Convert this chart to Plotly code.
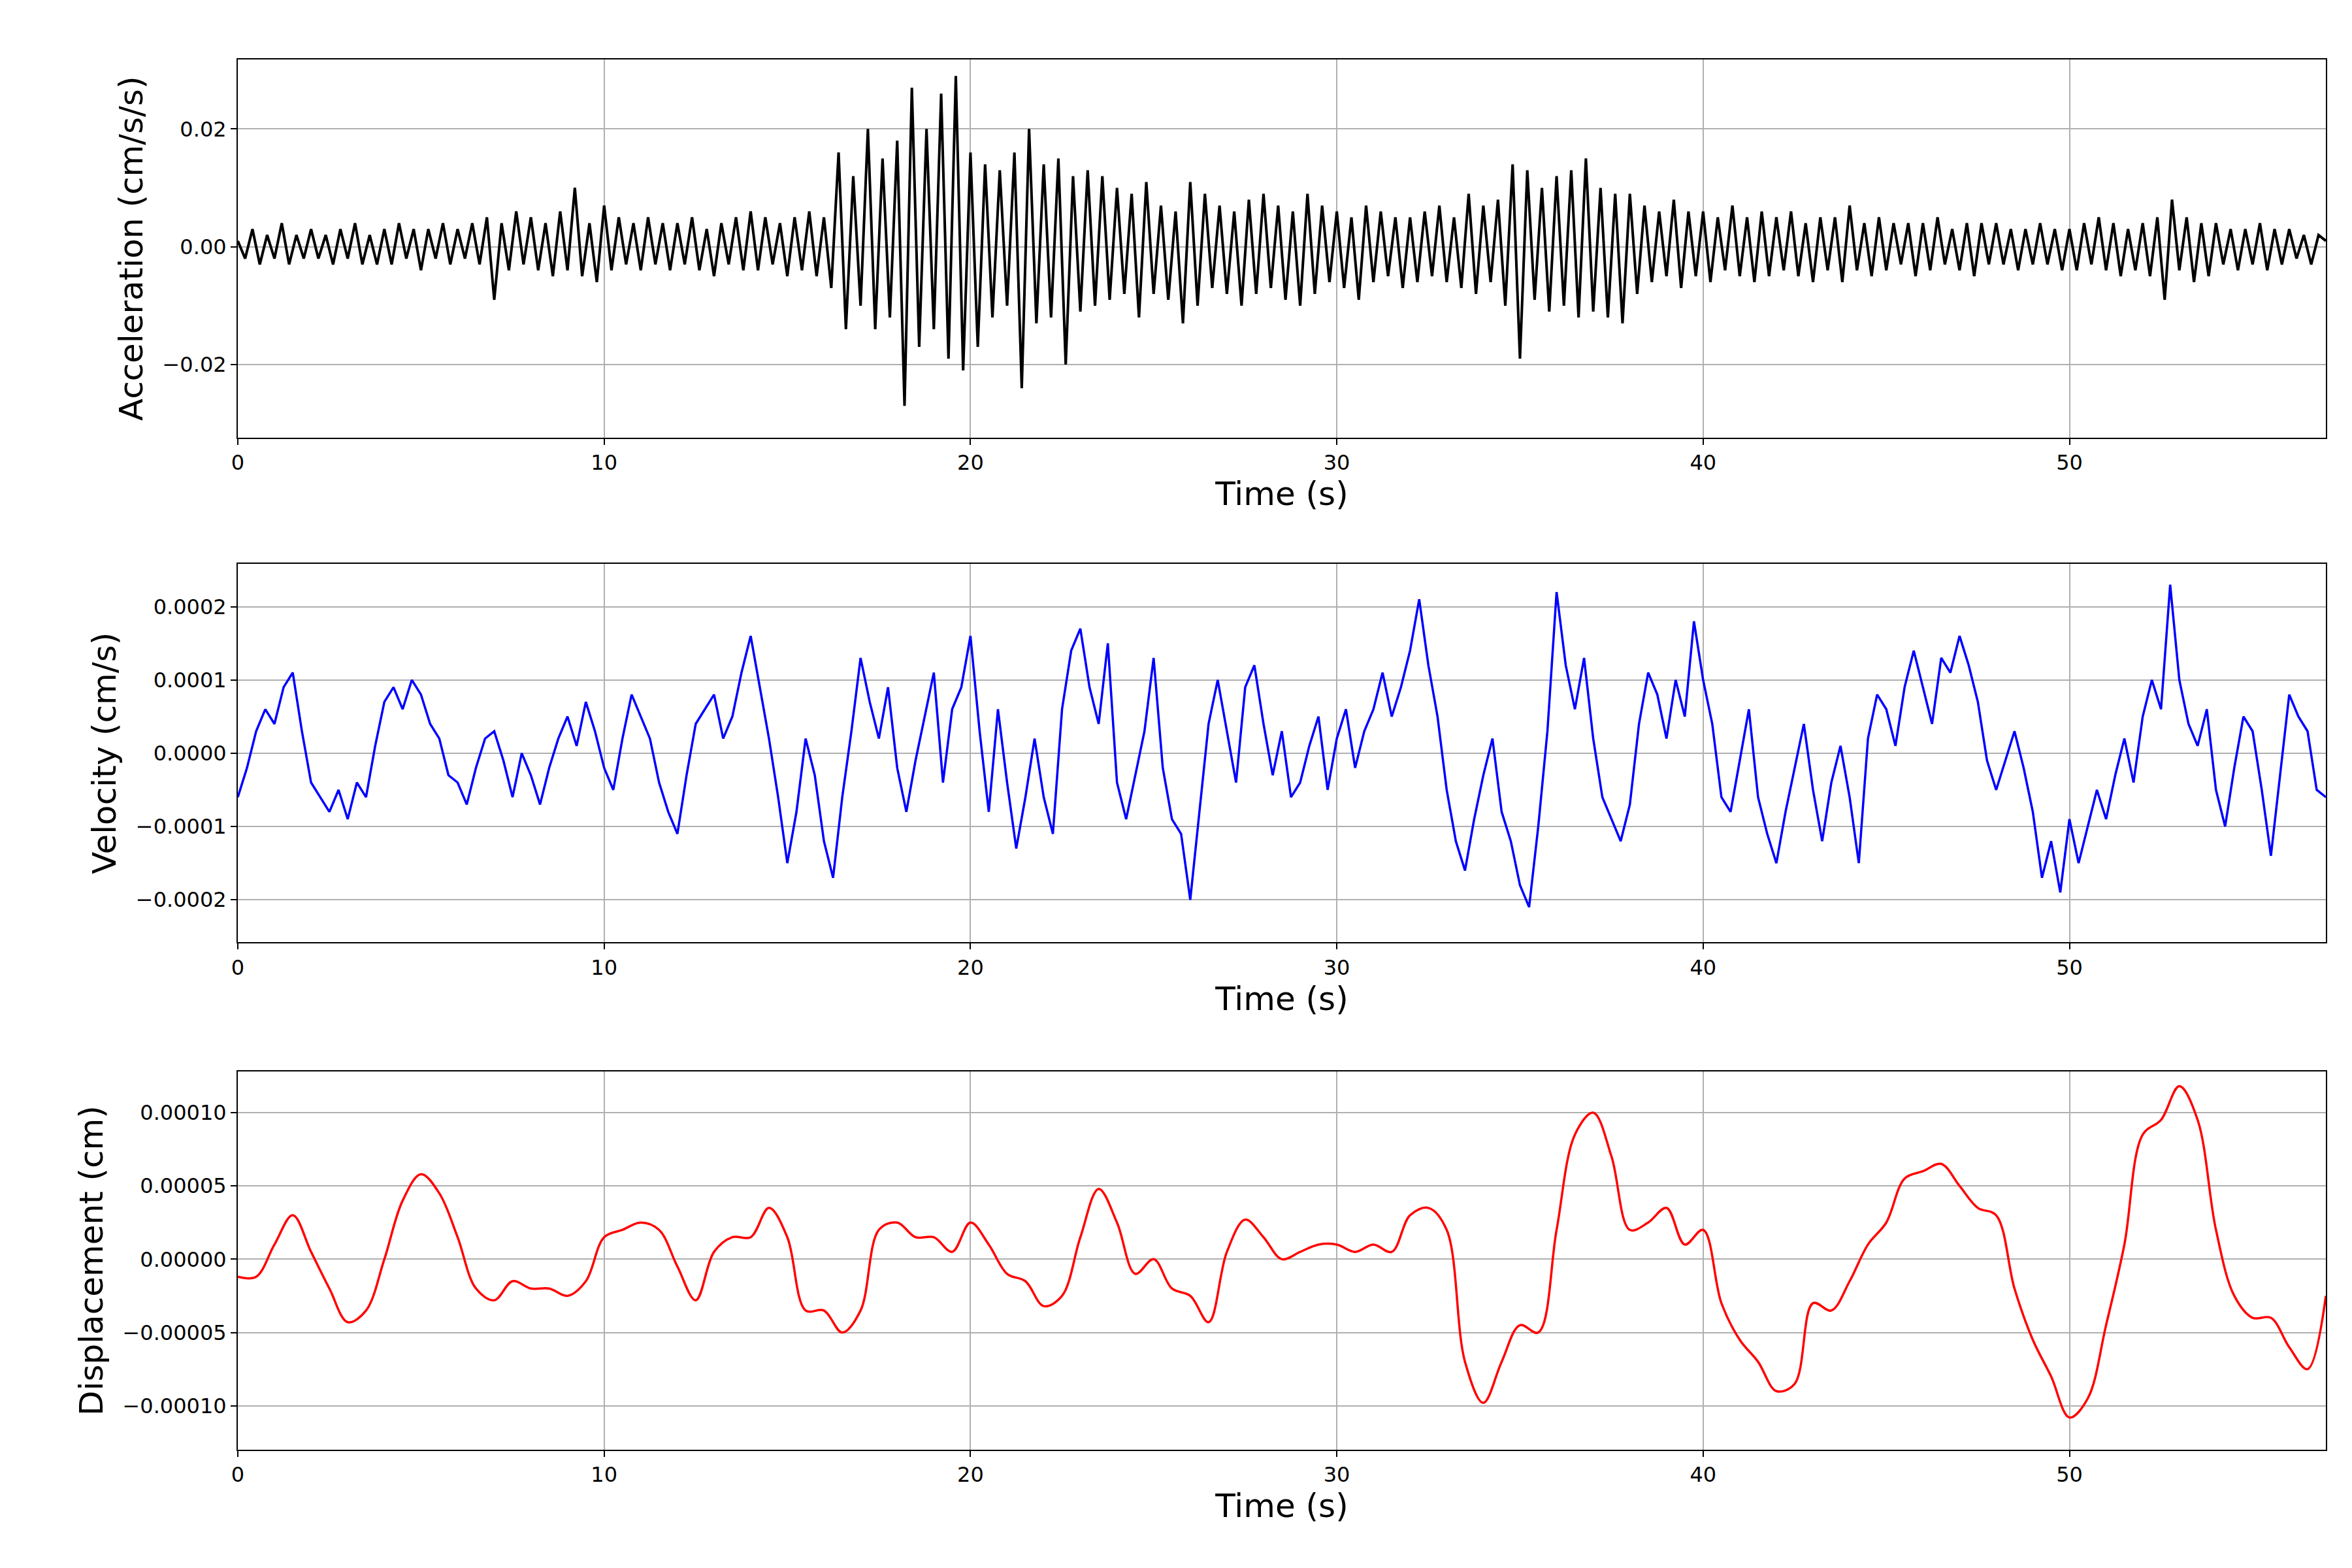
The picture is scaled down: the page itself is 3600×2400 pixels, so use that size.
import numpy as np
import plotly.graph_objects as go
from plotly.subplots import make_subplots

# acceleration, cm/s/s, sampled every 0.2 s
acc = [
    0.001,-0.002,0.003,-0.003,0.002,-0.002,0.004,-0.003,0.002,-0.002,
    0.003,-0.002,0.002,-0.003,0.003,-0.002,0.004,-0.003,0.002,-0.003,
    0.003,-0.003,0.004,-0.002,0.003,-0.004,0.003,-0.002,0.004,-0.003,
    0.003,-0.002,0.004,-0.003,0.005,-0.009,0.004,-0.004,0.006,-0.003,
    0.005,-0.004,0.004,-0.005,0.006,-0.004,0.010,-0.005,0.004,-0.006,
    0.007,-0.004,0.005,-0.003,0.004,-0.004,0.005,-0.003,0.004,-0.004,
    0.004,-0.003,0.005,-0.004,0.003,-0.005,0.004,-0.003,0.005,-0.004,
    0.006,-0.004,0.005,-0.003,0.004,-0.005,0.005,-0.004,0.006,-0.005,
    0.005,-0.007,0.016,-0.014,0.012,-0.010,0.020,-0.014,0.015,-0.012,
    0.018,-0.027,0.027,-0.017,0.020,-0.014,0.026,-0.019,0.029,-0.021,
    0.016,-0.017,0.014,-0.012,0.013,-0.010,0.016,-0.024,0.020,-0.013,
    0.014,-0.012,0.015,-0.020,0.012,-0.011,0.013,-0.010,0.012,-0.009,
    0.010,-0.008,0.009,-0.012,0.011,-0.008,0.007,-0.009,0.006,-0.013,
    0.011,-0.010,0.009,-0.007,0.007,-0.008,0.006,-0.010,0.008,-0.008,
    0.009,-0.007,0.007,-0.009,0.006,-0.010,0.009,-0.008,0.007,-0.006,
    0.006,-0.007,0.005,-0.009,0.007,-0.006,0.006,-0.005,0.005,-0.007,
    0.005,-0.006,0.006,-0.005,0.007,-0.006,0.005,-0.007,0.009,-0.008,
    0.007,-0.006,0.008,-0.010,0.014,-0.019,0.013,-0.009,0.010,-0.011,
    0.012,-0.010,0.013,-0.012,0.015,-0.011,0.010,-0.012,0.009,-0.013,
    0.009,-0.008,0.007,-0.006,0.006,-0.005,0.008,-0.007,0.006,-0.005,
    0.006,-0.006,0.005,-0.004,0.007,-0.005,0.005,-0.006,0.006,-0.005,
    0.005,-0.004,0.006,-0.005,0.004,-0.006,0.005,-0.004,0.005,-0.006,
    0.007,-0.004,0.004,-0.005,0.005,-0.004,0.004,-0.003,0.004,-0.005,
    0.004,-0.004,0.005,-0.003,0.003,-0.004,0.004,-0.005,0.004,-0.003,
    0.004,-0.003,0.003,-0.004,0.003,-0.003,0.004,-0.003,0.003,-0.004,
    0.003,-0.004,0.004,-0.003,0.005,-0.004,0.004,-0.005,0.003,-0.004,
    0.004,-0.005,0.005,-0.009,0.008,-0.004,0.005,-0.006,0.004,-0.005,
    0.004,-0.003,0.003,-0.004,0.003,-0.003,0.004,-0.004,0.003,-0.003,
    0.003,-0.002,0.002,-0.003,0.002,0.001,
]

# velocity, 1e-4 cm/s, sampled every 0.25 s
vel = [
    -0.6,-0.2,0.3,0.6, 0.4,0.9,1.1,0.3, -0.4,-0.6,-0.8,-0.5, -0.9,-0.4,-0.6,0.1,
    0.7,0.9,0.6,1.0, 0.8,0.4,0.2,-0.3, -0.4,-0.7,-0.2,0.2, 0.3,-0.1,-0.6,0.0,
    -0.3,-0.7,-0.2,0.2, 0.5,0.1,0.7,0.3, -0.2,-0.5,0.2,0.8, 0.5,0.2,-0.4,-0.8,
    -1.1,-0.3,0.4,0.6, 0.8,0.2,0.5,1.1, 1.6,0.9,0.2,-0.6, -1.5,-0.8,0.2,-0.3,
    -1.2,-1.7,-0.6,0.3, 1.3,0.7,0.2,0.9, -0.2,-0.8,-0.1,0.5, 1.1,-0.4,0.6,0.9,
    1.6,0.3,-0.8,0.6, -0.4,-1.3,-0.6,0.2, -0.6,-1.1,0.6,1.4, 1.7,0.9,0.4,1.5,
    -0.4,-0.9,-0.3,0.3, 1.3,-0.2,-0.9,-1.1, -2.0,-0.8,0.4,1.0, 0.3,-0.4,0.9,1.2,
    0.4,-0.3,0.3,-0.6, -0.4,0.1,0.5,-0.5, 0.2,0.6,-0.2,0.3, 0.6,1.1,0.5,0.9,
    1.4,2.1,1.2,0.5, -0.5,-1.2,-1.6,-0.9, -0.3,0.2,-0.8,-1.2, -1.8,-2.1,-1.0,0.3,
    2.2,1.2,0.6,1.3, 0.2,-0.6,-0.9,-1.2, -0.7,0.4,1.1,0.8, 0.2,1.0,0.5,1.8,
    1.0,0.4,-0.6,-0.8, -0.1,0.6,-0.6,-1.1, -1.5,-0.8,-0.2,0.4, -0.5,-1.2,-0.4,0.1,
    -0.6,-1.5,0.2,0.8, 0.6,0.1,0.9,1.4, 0.9,0.4,1.3,1.1, 1.6,1.2,0.7,-0.1,
    -0.5,-0.1,0.3,-0.2, -0.8,-1.7,-1.2,-1.9, -0.9,-1.5,-1.0,-0.5, -0.9,-0.3,0.2,-0.4,
    0.5,1.0,0.6,2.3, 1.0,0.4,0.1,0.6, -0.5,-1.0,-0.2,0.5, 0.3,-0.5,-1.4,-0.3,
    0.8,0.5,0.3,-0.5, -0.6,
]

# displacement, 1e-5 cm, sampled every 0.5 s
disp = [
    -1.2,-1.2,1.0,3.0,0.5,-2.0,-4.3,-3.5,0.0,4.0,
    5.8,4.5,1.5,-2.0,-2.8,-1.5,-2.0,-2.0,-2.5,-1.5,
    1.5,2.0,2.5,2.0,-0.5,-2.8,0.5,1.5,1.5,3.5,
    1.5,-3.5,-3.5,-5.0,-3.5,2.0,2.5,1.5,1.5,0.5,
    2.5,1.0,-1.0,-1.5,-3.2,-2.5,1.5,4.8,2.5,-1.0,
    0.0,-2.0,-2.5,-4.3,0.5,2.7,1.5,0.0,0.5,1.0,
    1.0,0.5,1.0,0.5,3.0,3.5,2.0,-7.0,-9.8,-7.0,
    -4.5,-5.0,2.0,8.5,10.0,7.0,2.0,2.5,3.5,1.0,
    2.0,-3.0,-5.5,-7.0,-9.0,-8.5,-3.0,-3.5,-1.5,1.0,
    2.5,5.5,6.0,6.5,5.0,3.5,3.0,-2.0,-5.5,-8.0,
    -10.8,-9.5,-4.5,1.0,8.5,9.5,11.8,9.5,2.0,-2.5,
    -4.0,-4.0,-6.0,-7.5,-2.5,
]

t_acc = np.arange(len(acc)) * 0.2
t_vel = np.arange(len(vel)) * 0.25
t_disp = np.arange(len(disp)) * 0.5

fig = make_subplots(rows=3, cols=1)
fig.add_trace(go.Scatter(x=t_acc, y=acc, mode='lines', line=dict(color='black', width=4)), row=1, col=1)
fig.add_trace(go.Scatter(x=t_vel, y=np.array(vel) * 1e-4, mode='lines', line=dict(color='blue', width=3.5)), row=2, col=1)
fig.add_trace(go.Scatter(x=t_disp, y=np.array(disp) * 1e-5, mode='lines', line=dict(color='red', width=3.5, shape='spline')), row=3, col=1)

domains = [(0.728, 1.0), (0.365, 0.637), (0.0, 0.272)]
yranges = [(-0.0324, 0.0318), (-0.000258, 0.000258), (-0.00013, 0.000128)]
ytitles = ['Acceleration (cm/s/s)', 'Velocity (cm/s)', 'Displacement (cm)']
ydtick = [0.02, 0.0001, 0.00005]
yfmt = ['.2f', '.4f', '.5f']

axis_common = dict(showline=True, linecolor='black', linewidth=2, mirror=True,
                   ticks='outside', ticklen=9, tickwidth=2, tickcolor='black',
                   showgrid=True, gridcolor='#b0b0b0', gridwidth=2, zeroline=False,
                   automargin=False, tickfont=dict(size=32, color='black'))
for i in range(3):
    fig.update_xaxes(row=i + 1, col=1, domain=[0, 1], range=[0, 57], dtick=10,
                     title=dict(text='Time (s)', font=dict(size=50, color='black'), standoff=10),
                     **axis_common)
    fig.update_yaxes(row=i + 1, col=1, domain=list(domains[i]), range=list(yranges[i]),
                     dtick=ydtick[i], tickformat=yfmt[i],
                     title=dict(text=ytitles[i], font=dict(size=50, color='black'), standoff=14),
                     **axis_common)

fig.update_layout(width=3600, height=2400, showlegend=False,
                  plot_bgcolor='white', paper_bgcolor='white',
                  font=dict(family='DejaVu Sans', color='black'),
                  margin=dict(l=356, r=48, t=83, b=189))

fig.write_html("out.html")
